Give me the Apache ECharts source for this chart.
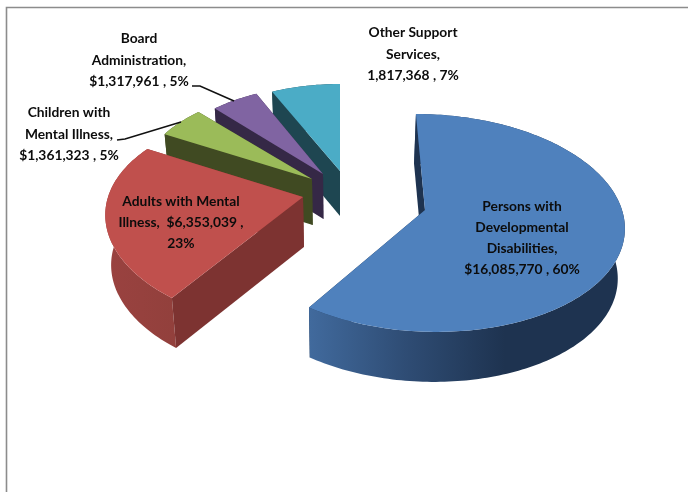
<!DOCTYPE html>
<html>
<head>
<meta charset="utf-8">
<style>html,body{margin:0;padding:0;background:#fff}#c{width:688px;height:492px}</style>
<script src="https://cdn.jsdelivr.net/npm/echarts@6/dist/echarts.min.js"></script>
</head>
<body>
<div id="c"></div>
<script>
// Data
var categories = ['Persons with Developmental Disabilities','Adults with Mental Illness','Children with Mental Illness','Board Administration','Other Support Services'];
var amounts = [16085770, 6353039, 1361323, 1317961, 1817368];
var labelLines = [
  ['Persons with','Developmental','Disabilities,','$16,085,770 , 60%'],
  ['Adults with Mental','Illness,  $6,353,039 ,','23%'],
  ['Children with','Mental Illness,','$1,361,323 , 5%'],
  ['Board','Administration,','$1,317,961 , 5%'],
  ['Other Support','Services,','1,817,368 , 7%']
];
// Colours: top, cut face, outer wall gradient
var topColors = ['#4f81bd','#c0504d','#9bbb59','#8064a2','#4bacc6'];
var faceColors = ['#1e3350','#7d3331','#404a22','#352846','#1e4651'];
var wallStops = [
  [[0,'#416a9d'],[0.3,'#2f4d75'],[0.62,'#1e3350'],[1,'#1e3350']],
  [[0,'#9a4240'],[1,'#92403c']],
  [[0,'#404a22'],[1,'#404a22']],
  [[0,'#352846'],[1,'#352846']],
  [[0,'#1e4651'],[1,'#1e4651']]
];
// Projected layout of each exploded slice
var vanishX = 340, shrink = 0.025;
var layout = [
  {ax:425, ay:210, rx:197, ry:107.4, p:0.119, px:0.119, depth:50},
  {ax:303, ay:197, rx:195, ry:105,   p:0.18,  px:0.14,  depth:50},
  {ax:312, ay:179, rx:170, ry:90,    p:0,     px:0,     depth:46},
  {ax:323, ay:174, rx:162, ry:88,    p:0,     px:0,     depth:45},
  {ax:340, ay:171, rx:165, ry:87,    p:0,     px:0,     depth:45}
];
var labelPos = [[522,207],[181,202],[69,113],[139,39],[413,33]];
var lineGap = [21,21,21.5,21.5,21.5];
var leaders = {2:[[117,140],[125,139],[181,122]],3:[[192,86],[200,86],[234,101]]};

var total = amounts.reduce(function(a,b){return a+b;},0);
function rad(v){return v/total*Math.PI*2;}
function startOf(i){var s=0;for(var k=0;k<i;k++)s+=rad(amounts[k]);return s;}
function proj(g,th){var u=Math.sin(th),v=Math.cos(th);
  return [vanishX+(g.ax-vanishX+g.rx*u)/(1+g.px*v), g.ay-g.ry*v/(1+g.p*v)];}
function low(g,pt){return [pt[0]-(pt[0]-vanishX)*shrink, pt[1]+g.depth];}

function renderItem(params,api){
  var i=api.value(0), g=layout[i], a0=startOf(i), a1=a0+rad(api.value(1));
  var n=Math.max(8,Math.round((a1-a0)/0.02)), arc=[];
  for(var k=0;k<=n;k++)arc.push(proj(g,a0+(a1-a0)*k/n));
  var apex=[g.ax,g.ay], apexLow=low(g,apex);
  var lowArc=arc.map(function(p){return low(g,p);});
  var kids=[];
  function poly(pts,fill){kids.push({type:'polygon',shape:{points:pts},style:{fill:fill}});}
  poly([apex,arc[n],lowArc[n],apexLow],faceColors[i]);
  poly(arc.concat(lowArc.slice().reverse()),{type:'linear',x:0,y:0,x2:1,y2:0,
    colorStops:wallStops[i].map(function(s){return {offset:s[0],color:s[1]};})});
  poly([apex,arc[0],lowArc[0],apexLow],faceColors[i]);
  poly([apex].concat(arc),topColors[i]);
  if(leaders[i])kids.push({type:'polyline',shape:{points:leaders[i]},
    style:{fill:null,stroke:'#111',lineWidth:1.6}});
  labelLines[i].forEach(function(t,k){kids.push({type:'text',style:{
    text:t,x:labelPos[i][0],y:labelPos[i][1]+k*lineGap[i],
    align:'center',verticalAlign:'middle',fill:'#0c0c0c',
    font:'bold 13.8px Lato, "Open Sans", sans-serif'}});});
  return {type:'group',children:kids};
}

var order=[4,3,2,1,0];
var chart=echarts.init(document.getElementById('c'),null,{renderer:'canvas'});
chart.setOption({
  animation:false,
  backgroundColor:'#ffffff',
  graphic:[
    {type:'polyline',z:0,shape:{points:[[6.5,492],[6.5,7.5],[688,7.5]]},style:{fill:null,stroke:'#8c8c8c',lineWidth:1.6}}
  ],
  series:[{
    type:'custom',coordinateSystem:'none',renderItem:renderItem,
    data:order.map(function(i){return {name:categories[i],value:[i,amounts[i]]};})
  }]
});
</script>
</body>
</html>
